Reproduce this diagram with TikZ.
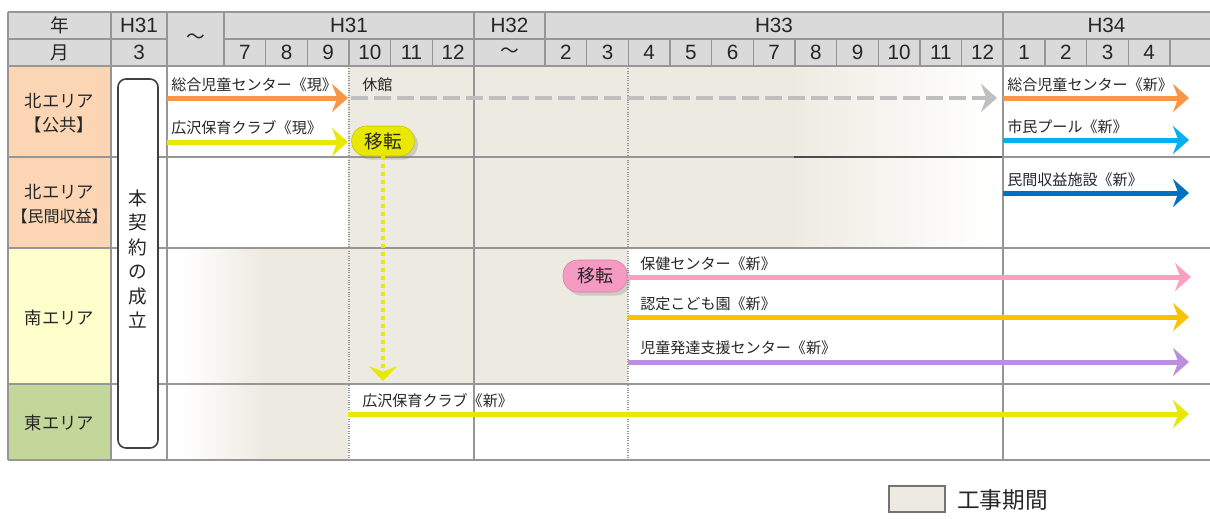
\documentclass[tikz,border=0pt]{standalone}
\usepackage{fontspec}
\setmainfont{Liberation Sans}
\newfontfamily\jp{Noto Sans CJK JP}
\usetikzlibrary{arrows.meta,shadows,positioning}

\definecolor{hdgray}{RGB}{218,218,218}
\definecolor{gridgray}{RGB}{150,150,150}
\definecolor{peach}{RGB}{252,213,180}
\definecolor{paleyellow}{RGB}{255,255,204}
\definecolor{olivegreen}{RGB}{196,215,155}
\definecolor{works}{RGB}{237,235,225}
\definecolor{arrorange}{RGB}{247,150,70}
\definecolor{arrgray}{RGB}{191,191,191}
\definecolor{arryellow}{RGB}{232,232,0}
\definecolor{arrsky}{RGB}{0,176,240}
\definecolor{arrblue}{RGB}{0,112,192}
\definecolor{arrpink}{RGB}{255,158,190}
\definecolor{nodepink}{RGB}{245,155,195}
\definecolor{arrgold}{RGB}{255,192,0}
\definecolor{arrpurple}{RGB}{188,142,222}
\definecolor{txt}{RGB}{38,38,38}

\begin{document}
\begin{tikzpicture}[x=0.75pt,y=-0.75pt,
			hd/.style   = {font=\fontsize{15.5}{16}\selectfont, text=txt, inner sep=0pt},
			hdjp/.style = {hd, font=\jp\fontsize{14}{15}\selectfont},
			area/.style = {font=\jp\fontsize{13}{18}\selectfont, text=txt, align=center, inner sep=0pt},
			lbl/.style  = {font=\jp\fontsize{11.3}{12}\selectfont, text=txt, anchor=south west, inner sep=0pt},
			plan/.style = {line width=3.75pt, -{Stealth[length=12pt,width=21pt,inset=4pt]}},
			iten/.style = {rounded corners=11pt, draw=#1!85!black, fill=#1, minimum width=47pt, minimum height=22.5pt,
				font=\jp\fontsize{14}{15}\selectfont, text=txt, inner sep=2pt, drop shadow={opacity=0.3}},
			grid/.style = {draw=gridgray, line width=0.8pt}]
			
			\useasboundingbox (0,0) rectangle (1210,518);
			
			% header and area colours
			\fill[hdgray] (8,12) rectangle (1210,66);
			\fill[peach] (8,66) rectangle (111,248);
			\fill[paleyellow] (8,248) rectangle (111,384);
			\fill[olivegreen] (8,384) rectangle (111,460);
			
			% construction periods
			\fill[works] (348,66) rectangle (790,248);
			\fill[left color=works, right color=white] (790,66) rectangle (990,248);
			\fill[left color=white, right color=works] (182,248) rectangle (262,460);
			\fill[works] (262,248) rectangle (348,460);
			\fill[works] (348,248) rectangle (628,384);
			
			% grid
			\draw[grid] (8,12) -- (1210,12) (8,66) -- (1210,66);
			\draw[grid] (8,39) -- (167,39) (224,39) -- (1210,39);
			\foreach \y in {157,248,384,460}
			\draw[grid] (8,\y) -- (1210,\y);
			\draw[black!70, line width=0.8pt] (794,157) -- (1003,157);
			\foreach \x in {8,111,167,474,1003}
			\draw[grid] (\x,12) -- (\x,460);
			\foreach \x in {224,545}
			\draw[grid] (\x,12) -- (\x,66);
			\foreach \i in {1,...,5}
			\draw[grid] ({224+41.667*\i},39) -- ++(0,27);
			\foreach \i in {1,...,15}
			\draw[grid] ({545+41.667*\i},39) -- ++(0,27);
			\foreach \x in {349,628}
			\draw[gridgray, densely dotted, line width=0.8pt] (\x,66) -- (\x,460);
			
			% header texts
			\node[hdjp] (nen) at (59.5,25.5) {年};
			\node[hdjp] (tsuki) at (59.5,52.5) {月};
			\node[hd] (y31a) at (139,25.5) {H31};
			\node[hd] (m3) at (139,52.5) {3};
			\node[hdjp] (wave1) at (195.5,39) {～};
			\node[hd] (y31b) at (349,25.5) {H31};
			\node[hd] (y32) at (509.5,25.5) {H32};
			\node[hdjp] (wave2) at (509.5,52.5) {～};
			\node[hd] (y33) at (774,25.5) {H33};
			\node[hd] (y34) at (1106.5,25.5) {H34};
			\foreach \m [count=\i from 0] in {7,...,12}
			\node[hd] (a\m) at ({224+41.667*(\i+0.5)},52.5) {\m};
			\foreach \m [count=\i from 0] in {2,...,12}
			\node[hd] (b\m) at ({545+41.667*(\i+0.5)},52.5) {\m};
			\foreach \m [count=\i from 11] in {1,...,4}
			\node[hd] (c\m) at ({545+41.667*(\i+0.5)},52.5) {\m};
			
			% areas
			\node[area] (kita1) at (59.5,113) {北エリア\\【公共】};
			\node[area] (kita2) at (59.5,204.5) {北エリア\\{\fontsize{12}{18}\selectfont【民間収益】}};
			\node[area] (minami) at (59.5,318) {南エリア};
			\node[area] (higashi) at (59.5,423) {東エリア};
			
			\node[draw=black!75, line width=1.2pt, fill=white, rounded corners=6pt, minimum width=30pt,
			minimum height=276.75pt, inner sep=0pt] (keiyaku) at (138,263.5) {};
			\node[font=\jp\fontsize{14}{18.4}\selectfont, text=txt, align=center, inner sep=0pt]
			(keiyakutxt) at (138,259) {本\\契\\約\\の\\成\\立};
			
			% north (public)
			\coordinate (g1) at (167,98);  \coordinate (g2) at (348,98);
			\coordinate (g3) at (351,98);  \coordinate (g4) at (997,98);
			\coordinate (g5) at (1003,98); \coordinate (g6) at (1189,98);
			\coordinate (h1) at (167,142); \coordinate (h2) at (348,142);
			\coordinate (s1) at (1003,140); \coordinate (s2) at (1189,140);
			\draw[plan, arrorange] (g1) -- (g2);
			\draw[plan, arrgray, line width=3pt, dash pattern=on 12.75pt off 4.5pt] (g3) -- (g4);
			\draw[plan, arrorange] (g5) -- (g6);
			\draw[plan, arryellow] (h1) -- (h2);
			\draw[plan, arrsky] (s1) -- (s2);
			\node[lbl] (jido1) at (171,92) {総合児童センター《現》};
			\node[lbl] (kyukan) at (362,92) {休館};
			\node[lbl] (jido2) at (1007,92) {総合児童センター《新》};
			\node[lbl] (hoiku1) at (171,135) {広沢保育クラブ《現》};
			\node[lbl] (pool) at (1007,134) {市民プール《新》};
			
			\node[iten=arryellow] (iten1) at (383,141) {移転};
			\coordinate (drop) at (383,381);
			\draw[arryellow, line width=3pt, dash pattern=on 3pt off 3pt,
			-{Stealth[length=11pt,width=21pt,inset=4pt]}] (iten1.south) -- (drop);
			
			% north (private)
			\coordinate (t1) at (1003,193); \coordinate (t2) at (1189,193);
			\draw[plan, arrblue] (t1) -- (t2);
			\node[lbl] (minkan) at (1007,187) {民間収益施設《新》};
			
			% south
			\node[iten=nodepink, font=\jp\fontsize{13.5}{14}\selectfont, minimum width=48pt, minimum height=24pt]
			(iten2) at (595,276) {移転};
			\coordinate (k1) at (628,277); \coordinate (k2) at (1191,277);
			\coordinate (n1) at (628,317); \coordinate (n2) at (1189,317);
			\coordinate (r1) at (628,362); \coordinate (r2) at (1189,362);
			\draw[plan, arrpink] (k1) -- (k2);
			\draw[plan, arrgold] (n1) -- (n2);
			\draw[plan, arrpurple] (r1) -- (r2);
			\node[lbl] (hoken) at (640,271) {保健センター《新》};
			\node[lbl] (kodomo) at (640,311) {認定こども園《新》};
			\node[lbl] (hattatsu) at (640,355) {児童発達支援センター《新》};
			
			% east
			\coordinate (e1) at (348,414); \coordinate (e2) at (1189,414);
			\draw[plan, arryellow] (e1) -- (e2);
			\node[lbl] (hoiku2) at (362,408) {広沢保育クラブ《新》};
			
			% legend
			\node[draw=black!55, fill=works, line width=0.8pt, minimum width=42pt, minimum height=19.5pt,
			inner sep=0pt] (key) at (917,499) {};
			\node[font=\jp\fontsize{17}{18}\selectfont, text=txt, anchor=west, inner sep=0pt] (keytxt) at (957,500) {工事期間};
		\end{tikzpicture}
\end{document}
